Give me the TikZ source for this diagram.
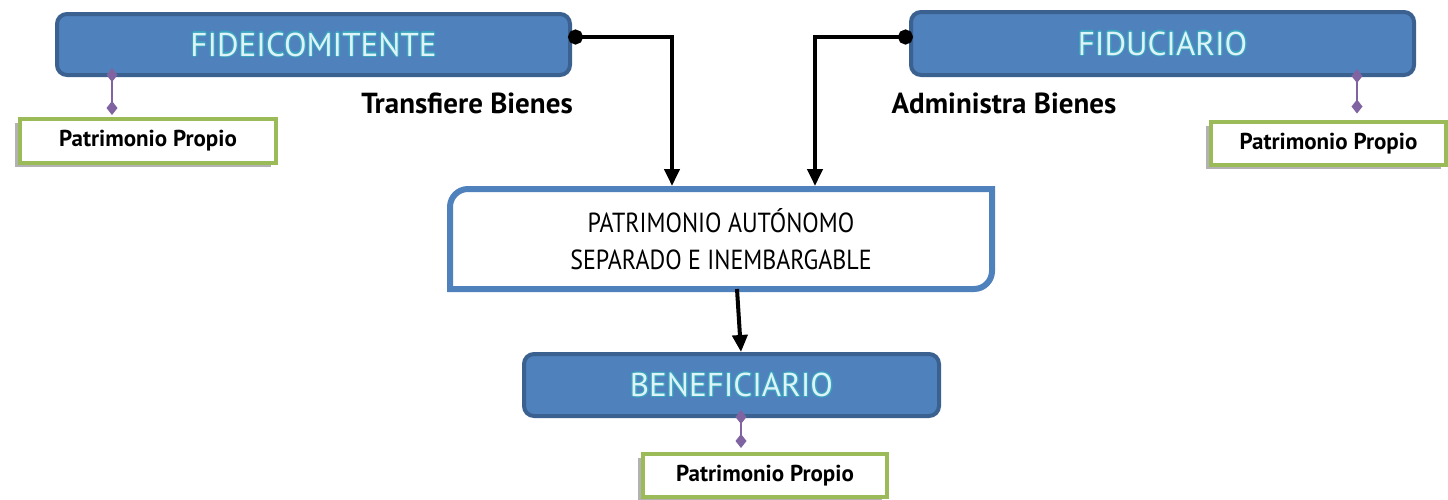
\documentclass[tikz,border=0pt]{standalone}
\usepackage{fontspec}
\setmainfont{PT Sans}
\usetikzlibrary{arrows.meta,shadows}
\definecolor{bfill}{HTML}{4F81BD}
\definecolor{bline}{HTML}{3A6190}
\definecolor{gline}{HTML}{9BBB59}
\definecolor{purpc}{HTML}{8064A2}
\definecolor{ttext}{HTML}{DDF3F8}
\definecolor{tglow}{HTML}{3AA3BD}
\newcommand\gl[3]{\rlap{\color{tglow}\kern#1\raisebox{#2}{#3}}}
\newcommand\glowtxt[1]{{\gl{-1.3pt}{0pt}{#1}\gl{1.3pt}{0pt}{#1}\gl{0pt}{1.3pt}{#1}\gl{0pt}{-1.3pt}{#1}%
\gl{-0.9pt}{0.9pt}{#1}\gl{0.9pt}{0.9pt}{#1}\gl{-0.9pt}{-0.9pt}{#1}\gl{0.9pt}{-0.9pt}{#1}{\color{ttext}#1}}}
\tikzset{
  party/.style={rectangle, rounded corners=10pt, fill=bfill, draw=bline, line width=4pt,
    minimum width=#1, minimum height=62pt, inner sep=0pt, outer sep=0pt,
    font=\fontsize{33}{36}\selectfont},
  own/.style={rectangle, draw=gline, line width=4pt, fill=white, minimum width=#1,
    minimum height=44pt, inner sep=0pt, outer sep=0pt,
    font=\bfseries\fontsize{23}{25}\selectfont,
    drop shadow={shadow xshift=-5pt, shadow yshift=-4pt, fill=black, opacity=0.3}},
  lbl/.style={font=\bfseries\fontsize{29}{31}\selectfont, inner sep=0pt},
  conn/.style={line width=4pt, black, {Circle[length=15pt]}-{Triangle[length=17pt,width=15pt]}},
  conn2/.style={line width=4pt, black, -{Triangle[length=17pt,width=15pt]}},
  link/.style={purpc, line width=2pt, {Diamond[length=14pt,width=11pt]}-{Diamond[length=14pt,width=11pt]}},
}
\begin{document}
\begin{tikzpicture}[x=1pt,y=1pt]
\useasboundingbox (0,0) rectangle (1448,-499);
% owner boxes
\node[own=256pt, minimum height=44pt] (pp1) at (148,-141) {Patrimonio Propio};
\node[own=235pt, minimum height=43pt] (pp2) at (1328.5,-143.5) {Patrimonio Propio};
\node[own=244pt, minimum height=43pt] (pp3) at (765,-475.5) {Patrimonio Propio};
% parties
\node[party=513pt, minimum height=61pt] (fide) at (313.5,-44.5) {\glowtxt{FIDEICOMITENTE}};
\node[party=503pt, minimum height=63pt] (fidu) at (1162.5,-43.5) {\glowtxt{FIDUCIARIO}};
\node[party=415pt, minimum height=62pt] (benef) at (731.5,-385) {\glowtxt{BENEFICIARIO}};
% central box
\node[rectangle, minimum width=542pt, minimum height=100pt, inner sep=0pt, outer sep=0pt,
  align=center, font=\fontsize{24}{37}\selectfont] (pa) at (721,-239)
  {\scalebox{1}[1.15]{PATRIMONIO AUTÓNOMO}\\\scalebox{1}[1.15]{SEPARADO E INEMBARGABLE}};
\draw[bfill, line width=6pt] (pa.south west) -- ([yshift=-18pt]pa.north west)
  arc[start angle=180, end angle=90, radius=18pt] -- (pa.north east)
  -- ([yshift=18pt]pa.south east) arc[start angle=0, end angle=-90, radius=18pt] -- cycle;
% labels
\node[lbl] (tb) at (467,-103) {Transfiere Bienes};
\node[lbl] (ab) at (1004,-103) {Administra Bienes};
% connectors
\draw[conn] ([xshift=-2pt,yshift=7.5pt]fide.east) -| ([xshift=-49pt,yshift=3pt]pa.north);
\draw[conn] ([xshift=2pt,yshift=6.5pt]fidu.west) -| ([xshift=94pt,yshift=3pt]pa.north);
\draw[conn2] ([xshift=16pt]pa.south) -- ([xshift=9.5pt,yshift=2pt]benef.north);
\draw[link] ([xshift=55pt,yshift=7pt]fide.south west) -- ([xshift=-36pt,yshift=4pt]pp1.north);
\draw[link] ([xshift=-57pt,yshift=6pt]fidu.south east) -- ([xshift=28.5pt,yshift=8.5pt]pp2.north);
\draw[link] ([xshift=9.5pt,yshift=6pt]benef.south) -- ([xshift=-24pt,yshift=6pt]pp3.north);
\end{tikzpicture}
\end{document}
